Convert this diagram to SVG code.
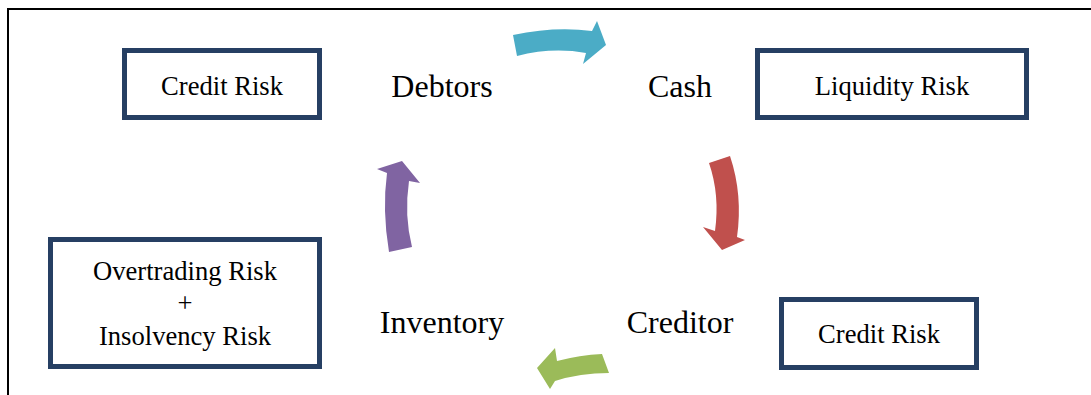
<svg xmlns="http://www.w3.org/2000/svg" width="1091" height="395" viewBox="0 0 1091 395">
  <style>
    .frame { fill: none; stroke: #000; stroke-width: 2; }
    .risk rect { fill: #fff; stroke: #263F63; stroke-width: 5; }
    .risk text { font-family: "Liberation Serif", "Times New Roman", serif; font-size: 26.6px; fill: #000; text-anchor: middle; }
    .stage text { font-family: "Liberation Serif", "Times New Roman", serif; font-size: 32px; fill: #000; text-anchor: middle; }
  </style>
  <rect width="1091" height="395" fill="#fff"/>
  <!-- page frame: top and left edges only -->
  <path class="frame" d="M8,395 L8,9 L1091,9"/>

  <!-- risk boxes -->
  <g id="credit-risk-top" class="risk">
    <rect x="124.5" y="50.5" width="195" height="67"/>
    <text x="222" y="95">Credit Risk</text>
  </g>
  <g id="liquidity-risk" class="risk">
    <rect x="757.5" y="50.5" width="269" height="67"/>
    <text x="892" y="95">Liquidity Risk</text>
  </g>
  <g id="overtrading-insolvency-risk" class="risk">
    <rect x="50.5" y="239.5" width="269" height="127"/>
    <text x="185" y="280">Overtrading Risk</text>
    <text x="185" y="312">+</text>
    <text x="185" y="345">Insolvency Risk</text>
  </g>
  <g id="credit-risk-bottom" class="risk">
    <rect x="781.5" y="299.5" width="195" height="68"/>
    <text x="879" y="343">Credit Risk</text>
  </g>

  <!-- cycle stages -->
  <g id="debtors" class="stage"><text x="442" y="97">Debtors</text></g>
  <g id="cash" class="stage"><text x="680" y="97">Cash</text></g>
  <g id="creditor" class="stage"><text x="680" y="333">Creditor</text></g>
  <g id="inventory" class="stage"><text x="442" y="333">Inventory</text></g>

  <!-- curved cycle arrows -->
  <g id="connectors">
    <path id="debtors-to-cash" fill="#4BACC6" d="M513,35 Q555,26 592,31 L597,21 L606,45 L583,64 L586,53 Q552,47 517,56 Z"/>
    <path id="cash-to-creditor" fill="#C0504D" d="M709,163 L730,156 Q743,195 737,237 L745,240 L722,250 L703,227 L715,231 Q720,195 709,163 Z"/>
    <path id="creditor-to-inventory" fill="#9BBB59" d="M602,354 Q580,355 557,361 L555,348 L537,368 L550,389 L555,381 Q580,373 609,373 Z"/>
    <path id="inventory-to-debtors" fill="#8064A2" d="M389,252 Q382,210 387,173 L377,169 L402,161 L420,183 L409,181 Q404,215 412,247 Z"/>
  </g>
</svg>
